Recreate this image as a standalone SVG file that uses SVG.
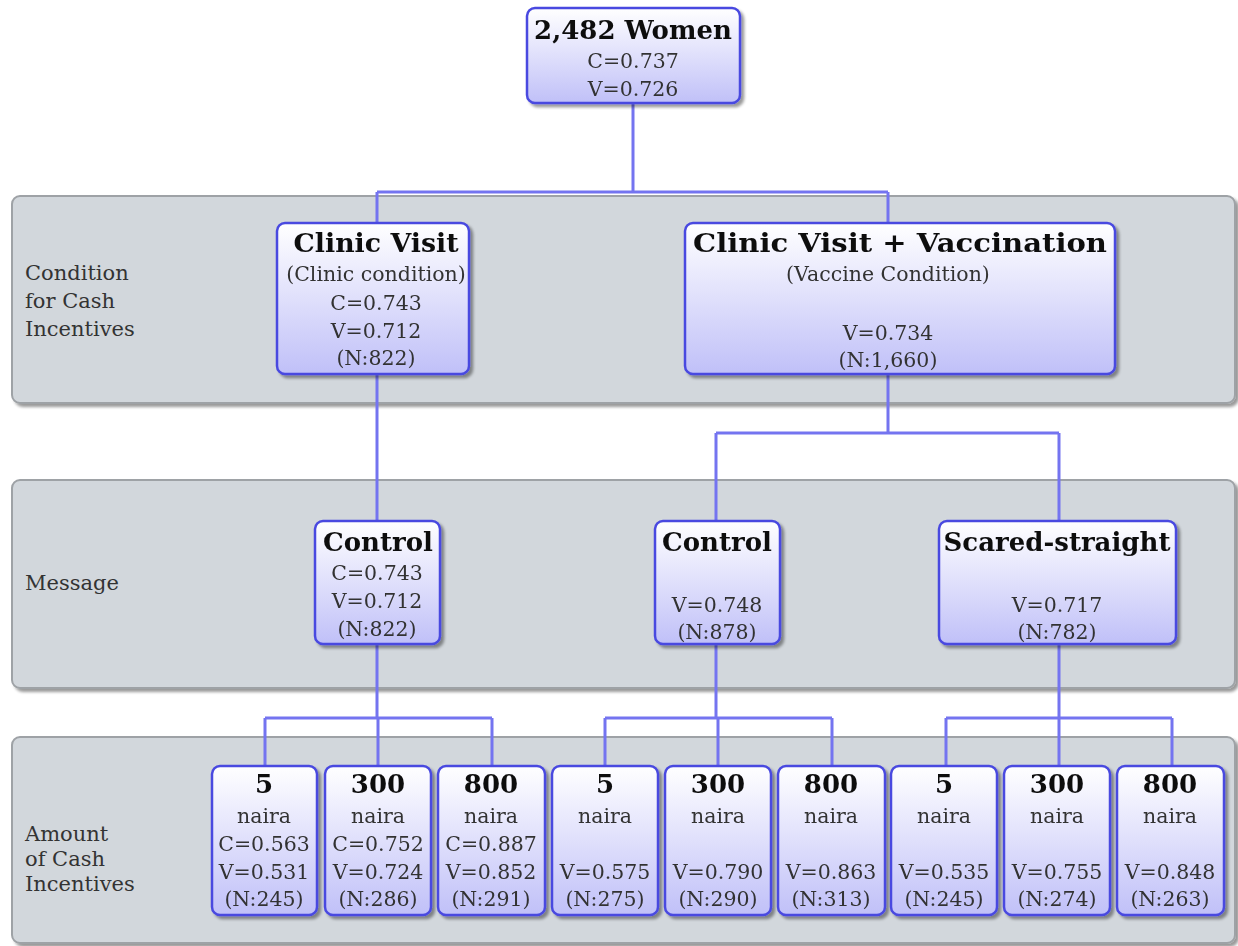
<svg xmlns="http://www.w3.org/2000/svg" width="1238" height="946" viewBox="0 0 1238 946">
<defs>
<linearGradient id="g" x1="0" y1="0" x2="0" y2="1">
<stop offset="0" stop-color="#ffffff"/>
<stop offset="1" stop-color="#c0c0f8"/>
</linearGradient>
<filter id="sh" x="-10%" y="-10%" width="130%" height="130%">
<feGaussianBlur in="SourceAlpha" stdDeviation="1.5"/>
<feOffset dx="3" dy="3" result="b"/>
<feComponentTransfer><feFuncA type="linear" slope="0.4"/></feComponentTransfer>
<feMerge><feMergeNode/><feMergeNode in="SourceGraphic"/></feMerge>
</filter>
</defs>
<style>
.band{fill:#d2d7dc;stroke:#9ea2a6;stroke-width:2}
.box{fill:url(#g);stroke:#4a4ae0;stroke-width:2.5}
.t{font-family:"DejaVu Serif","Liberation Serif",serif;font-size:20.5px;fill:#333;text-anchor:middle}
.b{font-family:"DejaVu Serif","Liberation Serif",serif;font-size:26px;font-weight:bold;fill:#111;text-anchor:middle}
.lab{font-family:"DejaVu Serif","Liberation Serif",serif;font-size:21px;fill:#333}
.c{fill:none;stroke:#7474f0;stroke-width:3}
</style>
<rect width="1238" height="946" fill="#fff"/>
<g id="bands">
<rect class="band" x="12" y="196" width="1223" height="207" rx="8" filter="url(#sh)"/>
<rect class="band" x="12" y="480" width="1223" height="208" rx="8" filter="url(#sh)"/>
<rect class="band" x="12" y="737" width="1223" height="206" rx="8" filter="url(#sh)"/>
</g>
<g id="labels">
<text class="lab" x="25" y="280">Condition</text>
<text class="lab" x="25" y="308">for Cash</text>
<text class="lab" x="25" y="336">Incentives</text>
<text class="lab" x="25" y="590">Message</text>
<text class="lab" x="25" y="841">Amount</text>
<text class="lab" x="25" y="866">of Cash</text>
<text class="lab" x="25" y="891">Incentives</text>
</g>
<g id="connectors">
<path class="c" d="M633 103V192M377 192H888M377 192V224M888 192V224"/>
<path class="c" d="M377 374V521"/>
<path class="c" d="M888 374V433M716 433H1059M716 433V521M1059 433V521"/>
<path class="c" d="M377 644V718M265 718H492M265 718V766M378 718V766M492 718V766"/>
<path class="c" d="M716 644V718M605 718H832M605 718V766M718 718V766M832 718V766"/>
<path class="c" d="M1059 644V718M946 718H1172M946 718V766M1059 718V766M1172 718V766"/>
</g>
<g id="root" filter="url(#sh)">
<rect class="box" x="527" y="8" width="213" height="95" rx="8"/>
<text class="b" x="633" y="39" font-size="28">2,482 Women</text>
<text class="t" x="633" y="68">C=0.737</text>
<text class="t" x="633" y="96">V=0.726</text>
</g>
<g id="clinic" filter="url(#sh)">
<rect class="box" x="277" y="223" width="192" height="151" rx="8"/>
<text class="b" x="376" y="252" textLength="165" lengthAdjust="spacingAndGlyphs">Clinic Visit</text>
<text class="t" x="376" y="281">(Clinic condition)</text>
<text class="t" x="376" y="310">C=0.743</text>
<text class="t" x="376" y="338">V=0.712</text>
<text class="t" x="376" y="365">(N:822)</text>
</g>
<g id="vaccine" filter="url(#sh)">
<rect class="box" x="685" y="223" width="430" height="151" rx="8"/>
<text class="b" x="900" y="252" textLength="414" lengthAdjust="spacingAndGlyphs">Clinic Visit + Vaccination</text>
<text class="t" x="888" y="281">(Vaccine Condition)</text>
<text class="t" x="888" y="340">V=0.734</text>
<text class="t" x="888" y="367">(N:1,660)</text>
</g>
<g id="ctrl1" filter="url(#sh)">
<rect class="box" x="315" y="521" width="125" height="123" rx="8"/>
<text class="b" x="378" y="551">Control</text>
<text class="t" x="377" y="580">C=0.743</text>
<text class="t" x="377" y="608">V=0.712</text>
<text class="t" x="377" y="636">(N:822)</text>
</g>
<g id="ctrl2" filter="url(#sh)">
<rect class="box" x="655" y="521" width="125" height="123" rx="8"/>
<text class="b" x="717" y="551">Control</text>
<text class="t" x="717" y="612">V=0.748</text>
<text class="t" x="717" y="639">(N:878)</text>
</g>
<g id="scared" filter="url(#sh)">
<rect class="box" x="939" y="521" width="237" height="123" rx="8"/>
<text class="b" x="1057" y="551">Scared-straight</text>
<text class="t" x="1057" y="612">V=0.717</text>
<text class="t" x="1057" y="639">(N:782)</text>
</g>
<g id="n1" filter="url(#sh)">
<rect class="box" x="212" y="766" width="105" height="149" rx="8"/>
<text class="b" x="264" y="793">5</text>
<text class="t" x="264" y="823">naira</text>
<text class="t" x="264" y="851">C=0.563</text>
<text class="t" x="264" y="879">V=0.531</text>
<text class="t" x="264" y="906">(N:245)</text>
</g>
<g id="n2" filter="url(#sh)">
<rect class="box" x="325" y="766" width="106" height="149" rx="8"/>
<text class="b" x="378" y="793">300</text>
<text class="t" x="378" y="823">naira</text>
<text class="t" x="378" y="851">C=0.752</text>
<text class="t" x="378" y="879">V=0.724</text>
<text class="t" x="378" y="906">(N:286)</text>
</g>
<g id="n3" filter="url(#sh)">
<rect class="box" x="438" y="766" width="107" height="149" rx="8"/>
<text class="b" x="491" y="793">800</text>
<text class="t" x="491" y="823">naira</text>
<text class="t" x="491" y="851">C=0.887</text>
<text class="t" x="491" y="879">V=0.852</text>
<text class="t" x="491" y="906">(N:291)</text>
</g>
<g id="n4" filter="url(#sh)">
<rect class="box" x="552" y="766" width="106" height="149" rx="8"/>
<text class="b" x="605" y="793">5</text>
<text class="t" x="605" y="823">naira</text>
<text class="t" x="605" y="879">V=0.575</text>
<text class="t" x="605" y="906">(N:275)</text>
</g>
<g id="n5" filter="url(#sh)">
<rect class="box" x="665" y="766" width="106" height="149" rx="8"/>
<text class="b" x="718" y="793">300</text>
<text class="t" x="718" y="823">naira</text>
<text class="t" x="718" y="879">V=0.790</text>
<text class="t" x="718" y="906">(N:290)</text>
</g>
<g id="n6" filter="url(#sh)">
<rect class="box" x="778" y="766" width="107" height="149" rx="8"/>
<text class="b" x="831" y="793">800</text>
<text class="t" x="831" y="823">naira</text>
<text class="t" x="831" y="879">V=0.863</text>
<text class="t" x="831" y="906">(N:313)</text>
</g>
<g id="n7" filter="url(#sh)">
<rect class="box" x="891" y="766" width="106" height="149" rx="8"/>
<text class="b" x="944" y="793">5</text>
<text class="t" x="944" y="823">naira</text>
<text class="t" x="944" y="879">V=0.535</text>
<text class="t" x="944" y="906">(N:245)</text>
</g>
<g id="n8" filter="url(#sh)">
<rect class="box" x="1004" y="766" width="106" height="149" rx="8"/>
<text class="b" x="1057" y="793">300</text>
<text class="t" x="1057" y="823">naira</text>
<text class="t" x="1057" y="879">V=0.755</text>
<text class="t" x="1057" y="906">(N:274)</text>
</g>
<g id="n9" filter="url(#sh)">
<rect class="box" x="1117" y="766" width="107" height="149" rx="8"/>
<text class="b" x="1170" y="793">800</text>
<text class="t" x="1170" y="823">naira</text>
<text class="t" x="1170" y="879">V=0.848</text>
<text class="t" x="1170" y="906">(N:263)</text>
</g>
</svg>
